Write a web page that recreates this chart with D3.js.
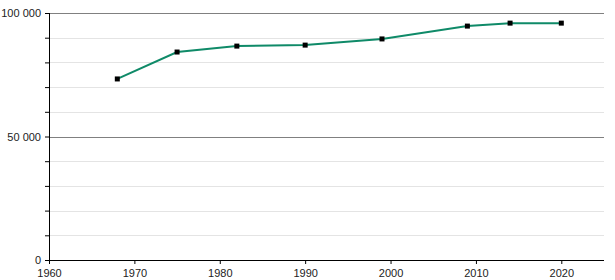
<!DOCTYPE html>
<html>
<head>
<meta charset="utf-8">
<script src="https://cdn.jsdelivr.net/npm/d3@7"></script>
<style>
  body { margin: 0; background: #fff; }
  text { font-family: "Liberation Sans", Arial, sans-serif; font-size: 11px; fill: #222; }
</style>
</head>
<body>
<script>
// population figures
const years = [1968, 1975, 1982, 1990, 1999, 2009, 2014, 2020];
const population = [73300, 84200, 86600, 87000, 89500, 94700, 95900, 95900];
const xTicks = [1960, 1970, 1980, 1990, 2000, 2010, 2020];
const yLabelTicks = [0, 50000, 100000];

const margin = { top: 13, right: 11, bottom: 20, left: 49 },
    width = 615 - margin.left - margin.right,
    height = 280 - margin.top - margin.bottom;

const svg = d3.select("body").append("svg")
    .attr("width", 615)
    .attr("height", 280)
    .append("g")
    .attr("transform", "translate(" + margin.left + "," + margin.top + ")");

const x = d3.scaleLinear().domain([1960, 2025]).range([0, width]);
const y = d3.scaleLinear().domain([0, 100000]).range([height, 0]);

// light grid every 10 000, darker at 50 000 steps
const gridVals = d3.range(10000, 100001, 10000);
svg.selectAll(".grid")
    .data(gridVals)
    .enter().append("line")
    .attr("x1", 0)
    .attr("x2", width)
    .attr("y1", d => Math.round(y(d)) + 0.5)
    .attr("y2", d => Math.round(y(d)) + 0.5)
    .attr("stroke", d => d % 50000 === 0 ? "#808080" : "#e4e4e4")
    .attr("stroke-width", 1);

const fmt = d => d3.format(",")(d).replace(/,/g, " ");

const yAxis = d3.axisLeft(y)
    .tickValues(d3.range(0, 100001, 10000))
    .tickSize(4)
    .tickFormat(d => yLabelTicks.includes(d) ? fmt(d) : "");

const xAxis = d3.axisBottom(x)
    .tickValues(xTicks)
    .tickSize(4)
    .tickFormat(d3.format("d"));

const gy = svg.append("g").call(yAxis);
gy.select(".domain").attr("d", "M0.5," + (height + 0.5) + "V0");
gy.selectAll("text").attr("dx", "-1").style("font-size", "11px");

const gx = svg.append("g")
    .attr("transform", "translate(0," + height + ")")
    .call(xAxis);
gx.select(".domain").attr("d", "M0,0.5H" + width);
gx.selectAll("text").attr("dy", "0.9em").style("font-size", "11px");

svg.selectAll(".domain").attr("stroke", "#000");
svg.selectAll(".tick line").attr("stroke", "#000");

const data = years.map((yr, i) => ({ year: yr, value: population[i] }));

const line = d3.line()
    .x(d => x(d.year))
    .y(d => y(d.value));

svg.append("path")
    .datum(data)
    .attr("fill", "none")
    .attr("stroke", "#0f8a68")
    .attr("stroke-width", 2)
    .attr("d", line);

svg.selectAll(".pt")
    .data(data)
    .enter().append("rect")
    .attr("x", d => x(d.year) - 2.5)
    .attr("y", d => y(d.value) - 2.5)
    .attr("width", 5)
    .attr("height", 5)
    .attr("fill", "#000");
</script>
</body>
</html>
